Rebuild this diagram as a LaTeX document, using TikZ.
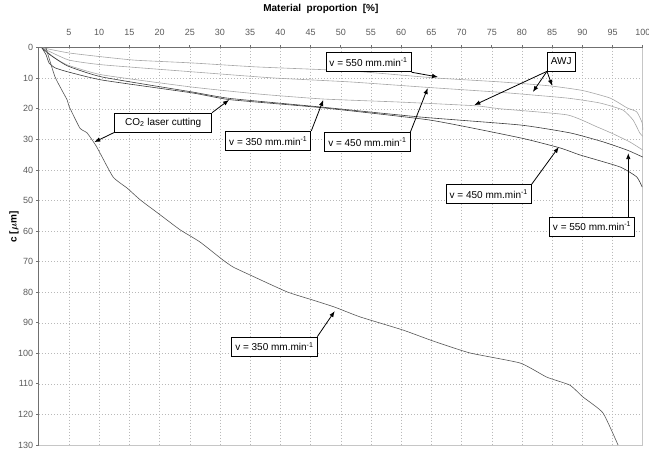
\documentclass[tikz,border=0pt]{standalone}
\usepackage{amsmath}
\usepackage{fontspec}
\setmainfont{Liberation Sans}
\usetikzlibrary{arrows.meta}

\definecolor{awjgray}{HTML}{A6A6A6}
\definecolor{lasergray}{HTML}{3A3A3A}
\definecolor{axisgray}{HTML}{707070}
\definecolor{ticktext}{HTML}{5A5A5A}

\tikzset{
  labelbox/.style={draw=black, line width=0.8pt, fill=white, inner xsep=3.5pt,
    inner ysep=0pt, minimum height=19pt, font={\fontsize{10}{12}\selectfont}},
  pointer/.style={-{Latex[length=6pt,width=4.5pt]}, line width=0.8pt},
  awj/.style={awjgray, line width=0.6pt, line join=round},
  laser/.style={lasergray, line width=0.6pt, line join=round},
  gridline/.style={gray!55, line width=0.4pt, dash pattern=on 1.5pt off 1.5pt},
  ticklab/.style={ticktext, font={\fontsize{9}{10}\selectfont}, inner sep=0pt},
  axistitle/.style={font={\bfseries\fontsize{10}{12}\selectfont}},
}

\begin{document}
\begin{tikzpicture}[x=6.04pt, y=-3.056pt]
  \useasboundingbox (-6.42,-15.6) rectangle (101.03,131.3);

  % grid
  \foreach \p in {5,10,...,95} \draw[gridline] (\p,0) -- (\p,130);
  \foreach \c in {10,20,...,120} \draw[gridline] (0,\c) -- (100,\c);

  % frame and axes
  \draw[gray!45, line width=0.6pt] (100,0) -- (100,130) -- (0,130);
  \draw[axisgray, line width=0.7pt] (0,130) -- (0,0) -- (100,0);
  \foreach \p in {5,10,...,100} {
    \draw[axisgray, line width=0.7pt] (\p,0) -- (\p,-1);
    \node[ticklab] (px\p) at (\p,-5.1) {\p};
  }
  \foreach \c in {0,10,...,130} {
    \draw[axisgray, line width=0.7pt] (0,\c) -- (-0.5,\c);
    \node[ticklab, anchor=east] (cy\c) at (-0.9,\c) {\c};
  }
  \node[axistitle] (title) at (46.7,-12.7) {Material\ \ proportion\ \ [\%]};
  \node[axistitle, rotate=90] (ylab) at (-4.1,58.7) {c [$\boldsymbol{\mu}$m]};

  % AWJ
  \draw[awj] plot[smooth, tension=0.3] coordinates {(0.5,0) (4.9,1.7) (10.5,3.0) (16.0,4.1) (25.4,5.0) (36.1,6.3) (51.5,7.6) (65.6,9.9) (76.4,11.2) (84.6,12.5) (90.0,14.0) (94.6,16.5) (97.4,19.7) (99.0,21.0) (99.9,24.6) (100,26.9)};
  \draw[awj] plot[smooth, tension=0.3] coordinates {(0.5,0) (4.9,4.0) (10.5,5.6) (25.4,7.9) (38.8,9.9) (51.5,11.2) (64.4,13.0) (76.4,14.6) (87.5,16.5) (92.9,18.1) (96.7,20.4) (98.4,23.7) (99.5,27.9) (100,29)};
  \draw[awj] plot[smooth, tension=0.3] coordinates {(0.5,0) (2.7,3.4) (4.8,5.7) (10.5,8.9) (25.4,12.9) (36.6,15.2) (47.1,16.8) (59.8,17.8) (72.2,19.0) (76.4,20.0) (87.5,22.0) (92.4,25.9) (95.1,28.2) (97.9,30.9) (100,33.5)};

  % CO2 laser
  \draw[laser] plot[smooth, tension=0.3] coordinates {(0.5,0) (1.9,2.4) (4.8,6.0) (10.5,9.6) (25.4,14.5) (31.6,16.6) (46.6,19.4) (63.2,22.7) (79.7,25.3) (88.0,27.9) (93.4,30.8) (97.4,33.5) (100,35.8)};
  \draw[laser] plot[smooth, tension=0.3] coordinates {(0.5,0) (1.2,2.3) (1.7,5.0) (2.7,6.6) (4.8,7.9) (10.5,10.6) (25.4,14.8) (31.6,17.0) (46.6,19.6) (64.8,23.7) (79.7,29.5) (86.3,32.8) (89.6,35.1) (96.2,39.0) (99.0,42.3) (99.9,45.6)};
  \draw[laser, lasergray!85] plot[smooth, tension=0.3] coordinates {(1.2,0.1) (2.7,9.6) (4.7,17.1) (5.0,19.1) (6.8,26.3) (8.0,27.9) (9.6,32.5) (12.3,42.3) (14.6,45.9) (16.8,49.8) (20.1,54.7) (23.4,59.6) (26.7,63.6) (30.5,69.5) (32.2,71.8) (35.0,74.4) (41.1,79.9) (45.4,82.6) (49.0,84.9) (53.2,88.1) (60.3,92.4) (65.3,96.0) (71.4,99.9) (79.7,103.2) (84.1,107.8) (87.9,110.4) (90.1,114.3) (93.4,119.5) (95.9,130)};

  % arrow tips
  \coordinate (t550awj) at (66.1,9.6);
  \coordinate (t450awj) at (64.4,13.2);
  \coordinate (t350awj) at (47.1,17.1);
  \coordinate (tawja) at (72.1,18.8);
  \coordinate (tawjb) at (81.8,14.5);
  \coordinate (tawjc) at (85.0,12.5);
  \coordinate (tco2a) at (9.2,30.9);
  \coordinate (tco2b) at (31.5,17.1);
  \coordinate (t450las) at (86.1,32.5);
  \coordinate (t550las) at (97.6,34.5);
  \coordinate (t350las) at (49.0,86.2);

  % labels
  \node[labelbox] (v550awj) at (54.6,4.8) {v = 550 mm.min\textsuperscript{-1}};
  \node[labelbox] (awj) at (86.5,4.5) {AWJ};
  \node[labelbox] (v450awj) at (54.4,30.9) {v = 450 mm.min\textsuperscript{-1}};
  \node[labelbox] (v350awj) at (38.0,30.5) {v = 350 mm.min\textsuperscript{-1}};
  \node[labelbox, minimum width=97pt] (co2) at (20.6,24.5) {CO\textsubscript{2} laser cutting};
  \node[labelbox] (v450las) at (74.5,47.9) {v = 450 mm.min\textsuperscript{-1}};
  \node[labelbox] (v550las) at (91.6,58.5) {v = 550 mm.min\textsuperscript{-1}};
  \node[labelbox] (v350las) at (39.0,97.8) {v = 350 mm.min\textsuperscript{-1}};

  \draw[pointer] (v550awj.south east) -- (t550awj);
  \draw[pointer] (v450awj.north east) -- (t450awj);
  \draw[pointer] (v350awj.north east) -- (t350awj);
  \draw[pointer] (awj.south west) -- (tawja);
  \draw[pointer] (awj.south west) -- (tawjb);
  \draw[pointer] (awj.south west) -- (tawjc);
  \draw[pointer] (co2.south west) -- (tco2a);
  \draw[pointer] (co2.north east) -- (tco2b);
  \draw[pointer] (v450las.north east) -- (t450las);
  \draw[pointer] (t550las |- v550las.north) -- (t550las);
  \draw[pointer] (v350las.north east) -- (t350las);
\end{tikzpicture}
\end{document}
